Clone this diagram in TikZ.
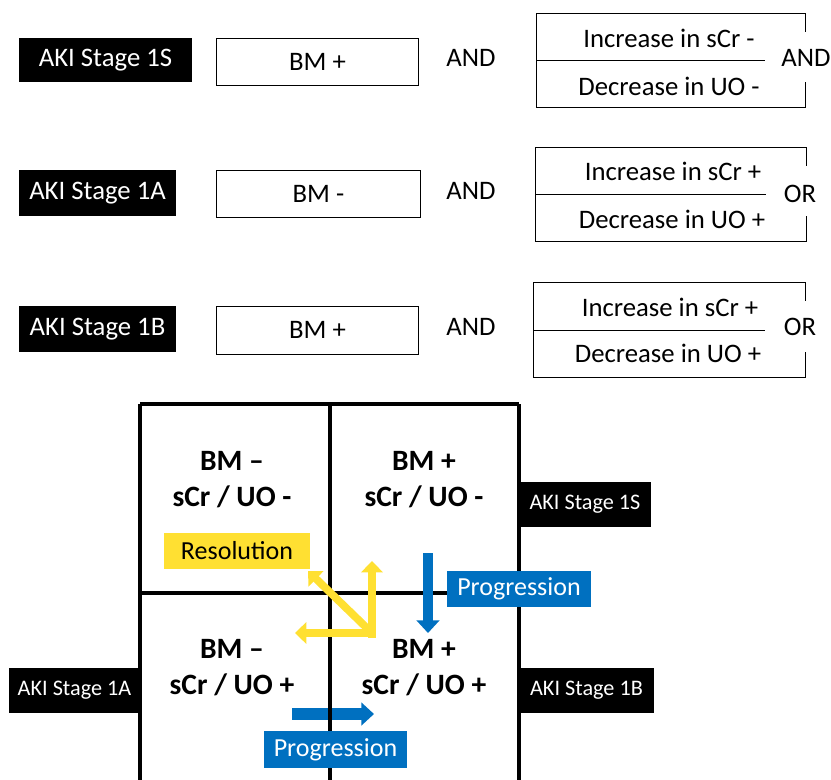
\documentclass[tikz,border=0pt]{standalone}
\usepackage{fontspec}
\setmainfont{Carlito}
\usetikzlibrary{arrows.meta,calc}
\definecolor{akiblue}{RGB}{0,112,192}
\definecolor{akiyellow}{RGB}{255,224,50}

\begin{document}
\begin{tikzpicture}[
    x=0.025cm, y=-0.025cm,
    stage/.style={
        rectangle,
        fill=black,
        text=white,
        inner sep=0pt,
        font=\fontsize{19}{22}\selectfont
    },
    gridstage/.style={
        stage,
        font=\fontsize{15.8}{18}\selectfont
    },
    bmbox/.style={
        rectangle,
        draw=black,
        line width=0.7pt,
        inner sep=0pt,
        font=\fontsize{19}{22}\selectfont
    },
    crit/.style={font=\fontsize{19}{22}\selectfont},
    cell/.style={
        align=center,
        font=\fontsize{21}{25.6}\selectfont\bfseries
    },
    bracket/.style={rectangle, inner sep=0pt},
    tag/.style={
        rectangle,
        inner sep=0pt,
        minimum width=3.6cm,
        minimum height=0.9cm,
        font=\fontsize{18.5}{22}\selectfont
    },
    bluearrow/.style={
        draw=akiblue,
        line width=7.5pt,
        -{Triangle[width=16pt,length=9pt]}
    },
    yellowarrow/.style={
        draw=akiyellow,
        line width=5.5pt,
        -{Triangle[width=15pt,length=8pt]}
    }
]
\useasboundingbox (0,0) rectangle (831,779);

% --- Stage definitions (top) ---
\node[stage, minimum width=4.325cm, minimum height=1.1cm]  (def1s) at (105.5,60) {AKI Stage 1S};
\node[stage, minimum width=3.925cm, minimum height=1.15cm] (def1a) at (97.5,193) {AKI Stage 1A};
\node[stage, minimum width=3.925cm, minimum height=1.15cm] (def1b) at (97.5,329) {AKI Stage 1B};

\node[bmbox, minimum width=5.025cm, minimum height=1.175cm] (bm1s) at (317.5,61.5) {BM +};
\node[bmbox, minimum width=5.075cm, minimum height=1.175cm] (bm1a) at (318.5,193.5) {BM -};
\node[bmbox, minimum width=5.025cm, minimum height=1.2cm]   (bm1b) at (317.5,330) {BM +};

\node[crit] (and1s) at (471,58)  {AND};
\node[crit] (and1a) at (471,191) {AND};
\node[crit] (and1b) at (471,327) {AND};

% Bracketed sCr / UO criteria
\node[bracket, minimum width=6.7cm,   minimum height=2.325cm] (br1s) at (671,60.5) {};
\node[bracket, minimum width=6.75cm,  minimum height=2.325cm] (br1a) at (671,194.5) {};
\node[bracket, minimum width=6.775cm, minimum height=2.35cm]  (br1b) at (669.5,330) {};

\foreach \br in {br1s,br1a,br1b} {
    \draw[line width=0.7pt] ($(\br.north east)+(0,18)$) -- (\br.north east) -- (\br.north west)
        -- (\br.south west) -- (\br.south east) -- ($(\br.south east)+(0,-25)$);
    \draw[line width=0.7pt] (\br.west) -- ($(\br.east)+(-40,0)$);
}

\node[crit] (scr1s) at (669,38)  {Increase in sCr -};
\node[crit] (uo1s)  at (669,86)  {Decrease in UO -};
\node[crit] (scr1a) at (673,171) {Increase in sCr +};
\node[crit] (uo1a)  at (672,219) {Decrease in UO +};
\node[crit] (scr1b) at (670,307) {Increase in sCr +};
\node[crit] (uo1b)  at (668,353) {Decrease in UO +};

\node[crit] (op1s) at (806,58)  {AND};
\node[crit] (op1a) at (800,194) {OR};
\node[crit] (op1b) at (800,327) {OR};

% --- Progression arrow below the grid lines ---
\coordinate (progtail) at (292,714);
\coordinate (progtip)  at (374,714);
\draw[bluearrow, line width=8.5pt] (progtail) -- (progtip);

% --- 2x2 grid ---
\draw[line width=2.2pt] (140,404) -- (519,404);
\draw[line width=2.2pt] (140,404) -- (140,790);
\draw[line width=2.2pt] (330,404) -- (330,790);
\draw[line width=2.2pt] (519,404) -- (519,790);
\draw[line width=2.2pt] (140,593) -- (519,593);

\node[cell] (cellnw) at (232,480) {BM --\\sCr / UO -};
\node[cell] (cellne) at (424,480) {BM +\\sCr / UO -};
\node[cell] (cellsw) at (232,668) {BM --\\sCr / UO +};
\node[cell] (cellse) at (424,668) {BM +\\sCr / UO +};

\node[gridstage, minimum width=3.3cm,   minimum height=1.125cm] (grid1s) at (585,504.5) {AKI Stage 1S};
\node[gridstage, minimum width=3.275cm, minimum height=1.125cm] (grid1a) at (74.5,690.5) {AKI Stage 1A};
\node[gridstage, minimum width=3.375cm, minimum height=1.125cm] (grid1b) at (586.5,690.5) {AKI Stage 1B};

% --- Resolution arrows ---
\coordinate (hub)   at (372,633);
\coordinate (resup) at (372,561);
\coordinate (resdg) at (308,571);
\coordinate (reslf) at (295,633);
\draw[yellowarrow] ($(hub)+(0,5)$) -- (resup);
\draw[yellowarrow] ($(hub)+(3,0)$) -- (reslf);
\draw[yellowarrow] (hub) -- (resdg);

\node[tag, fill=akiyellow, minimum width=3.65cm] (resol) at (237,551) {Resolution};

% --- Progression (1S -> 1B) ---
\coordinate (downtail) at (428,553);
\coordinate (downtip)  at (428,633);
\draw[bluearrow] (downtail) -- (downtip);

\node[tag, fill=akiblue, text=white] (progr) at (519,589) {Progression};
\node[tag, fill=akiblue, text=white, minimum width=3.575cm, minimum height=0.925cm] (progb) at (335.5,749.5) {Progression};

\end{tikzpicture}
\end{document}
